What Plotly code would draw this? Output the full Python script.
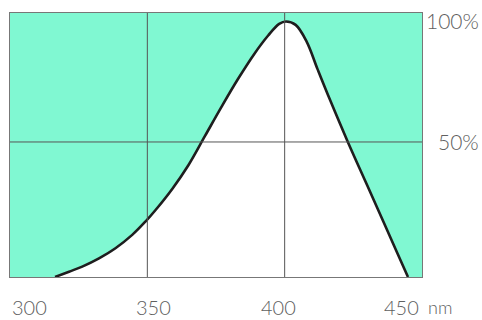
import plotly.graph_objects as go

# Curve data (wavelength nm, relative %)
wavelength = [316.4, 321.5, 326.3, 332.4, 338.4, 344.5, 349.3, 353, 359, 365, 371, 377, 383, 389, 394,
              398, 400.5, 404, 408, 412, 416.5, 423, 430, 436, 441, 444.9]
relative = [-5.8, -3.6, -1.5, 1.9, 6.1, 11.6, 17.1, 21.9, 30.5, 40.5, 52.5, 64.5, 76, 86.5, 94,
            98.8, 99.8, 98.4, 91.5, 80, 67.4, 50, 32.2, 16.9, 4.1, -5.8]

x_ticks = [300, 350, 400, 450]
x_tick_text = ["300", "350", "400", "450"]
y_ticks = [50, 100]
y_tick_text = ["50%", "100%"]
unit_text = "nm"

GREEN = "#80F8D2"
GRID = "#555555"
TXT = "#606060"

fig = go.Figure()
fig.add_trace(go.Scatter(
    x=wavelength, y=relative, mode="lines", fill="toself",
    fillcolor="white", line=dict(color="#1e1e1e", width=2.6, shape="spline", smoothing=1.0),
    hoverinfo="skip", showlegend=False))

# gridlines above the white fill
for xv in x_ticks[1:3]:
    fig.add_shape(type="line", xref="x", yref="paper", x0=xv, x1=xv, y0=0, y1=1,
                  line=dict(color=GRID, width=1), layer="above")
fig.add_shape(type="line", xref="paper", yref="y", x0=0, x1=1, y0=y_ticks[0], y1=y_ticks[0],
              line=dict(color=GRID, width=1), layer="above")

fnt = dict(family="Lato, 'Open Sans', sans-serif", size=21, color=TXT, weight=300)
xfnt = dict(fnt, size=20)
shifts = [19, 6, -6, -21]
for xv, txt, sh in zip(x_ticks, x_tick_text, shifts):
    fig.add_annotation(x=xv, y=0, xref="x", yref="paper", text=txt, showarrow=False,
                       xanchor="center", yanchor="middle", yshift=-30, xshift=sh, font=xfnt,
                       borderpad=0)
fig.add_annotation(x=1, y=0, xref="paper", yref="paper", text=unit_text, showarrow=False,
                   xanchor="left", yanchor="middle", yshift=-30, xshift=5,
                   font=dict(fnt, size=18), borderpad=0)
for yv, txt in zip(y_ticks, y_tick_text):
    fig.add_annotation(x=1, y=yv, xref="paper", yref="y", text=txt, showarrow=False,
                       xanchor="right", yanchor="middle", xshift=58, font=fnt, borderpad=0)

fig.update_layout(
    width=482, height=320,
    margin=dict(l=10, r=60, t=13, b=43),
    paper_bgcolor="white", plot_bgcolor=GREEN,
    xaxis=dict(range=[300, 450], showgrid=False, zeroline=False, showticklabels=False,
               showline=True, linecolor="#777777", linewidth=1, mirror=True, ticks=""),
    yaxis=dict(range=[-5.8, 103.3], showgrid=False, zeroline=False, showticklabels=False,
               showline=True, linecolor="#777777", linewidth=1, mirror=True, ticks=""),
)

fig.write_html("out.html", config={"displayModeBar": False, "staticPlot": True},
               post_script="document.body.style.margin='0';document.body.style.overflow='hidden';")
